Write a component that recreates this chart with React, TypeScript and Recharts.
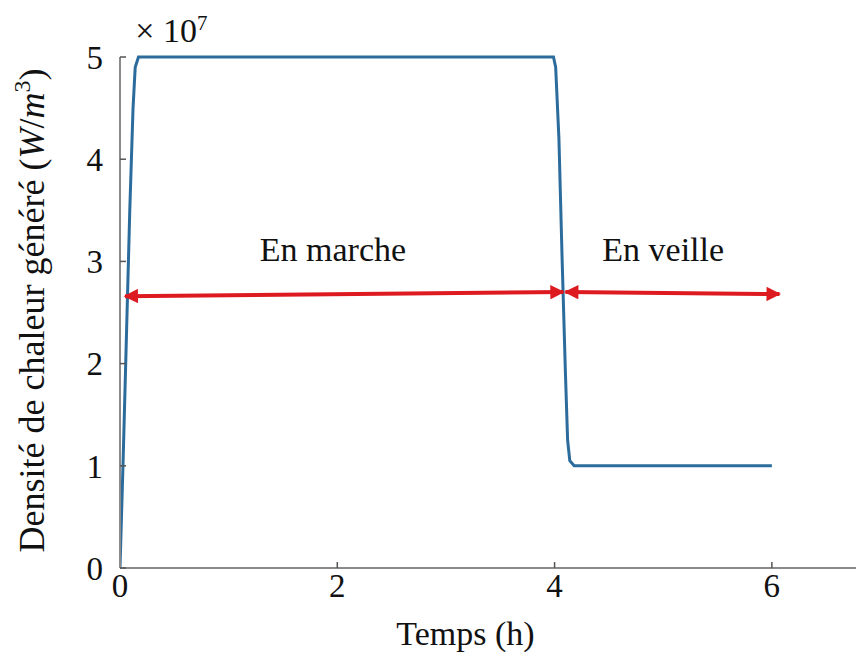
import React from 'react';
import { LineChart, Line, XAxis, YAxis, ReferenceLine, ReferenceDot } from 'recharts';

const times = [0, 0.03, 0.06, 0.09, 0.12, 0.14, 0.17, 3.99, 4.01, 4.04, 4.07, 4.1, 4.12, 4.14, 4.18, 6];
const density = [0, 1.1, 2.3, 3.5, 4.5, 4.9, 5, 5, 4.9, 4.2, 3.0, 1.9, 1.25, 1.05, 1.0, 1.0];
const xTicks = [0, 2, 4, 6];
const yTicks = [0, 1, 2, 3, 4, 5];
const arrowLevel = 2.68;
const arrowMarche = [0.046, 4.08];
const arrowVeille = [4.1, 6.07];
const labels = [
  { text: 'En marche', x: 1.96, y: 3.0 },
  { text: 'En veille', x: 5.0, y: 3.0 },
];

const data = times.map((t, i) => ({ t, v: density[i] }));

const FONT = '"Liberation Serif", "DejaVu Serif", serif';
const RED = '#dd1a20';
const BLUE = '#2c6c9c';
const GREY = '#8a8a8a';

const arrowShape = (p: any) => (
  <line
    x1={p.x1}
    y1={p.y1}
    x2={p.x2}
    y2={p.y2}
    stroke={RED}
    strokeWidth={4}
    markerStart="url(#arrowHead)"
    markerEnd="url(#arrowHead)"
  />
);

const textShape = (text: string) => (p: any) => (
  <text x={p.cx} y={p.cy} textAnchor="middle" fontFamily={FONT} fontSize={34} fill="#111">
    {text}
  </text>
);

const exponentShape = (p: any) => (
  <text x={p.cx} y={p.cy} textAnchor="start" fontFamily={FONT} fontSize={34} fill="#111">
    × 10<tspan dy={-12} fontSize={21}>7</tspan>
  </text>
);

const yLabel = (props: any) => {
  const vb = props.viewBox || {};
  const cx = 36;
  const cy = vb.y + vb.height / 2 - 2;
  return (
    <text
      x={cx}
      y={cy}
      transform={`rotate(-90, ${cx}, ${cy})`}
      textAnchor="middle"
      fontFamily={FONT}
      fontSize={36}
      fill="#111"
    >
      Densité de chaleur généré (<tspan fontStyle="italic">W</tspan>
      <tspan>/</tspan>
      <tspan fontStyle="italic">m</tspan>
      <tspan dy={-14} fontSize={24}>3</tspan>
      <tspan dy={14}>)</tspan>
    </text>
  );
};

const xLabel = (props: any) => {
  const vb = props.viewBox || {};
  const x = vb.x + vb.width * (3.18 / 6.848);
  const y = vb.y + vb.height - 8;
  return (
    <text x={x} y={y} textAnchor="middle" fontFamily={FONT} fontSize={34} fill="#111">
      Temps (h)
    </text>
  );
};

export default function App() {
  return (
    <div style={{ position: 'relative' }}>
      <svg width={0} height={0} style={{ position: 'absolute' }}>
        <defs>
          <marker
            id="arrowHead"
            viewBox="0 0 10 10"
            refX="9"
            refY="5"
            markerWidth="4.2"
            markerHeight="3.6"
            orient="auto-start-reverse"
          >
            <path d="M0,0 L10,5 L0,10 z" fill={RED} />
          </marker>
        </defs>
      </svg>
      <LineChart width={856} height={645} data={data} margin={{ top: 49, right: 0, left: 0, bottom: 0 }}>
        <XAxis
          dataKey="t"
          type="number"
          domain={[0, 6.848]}
          ticks={xTicks}
          allowDataOverflow
          height={85}
          axisLine={{ stroke: GREY, strokeWidth: 2 }}
          tickLine={{ stroke: '#555', strokeWidth: 1.5 }}
          tickSize={-6}
          tickMargin={12}
          tick={{ fontFamily: FONT, fontSize: 33, fill: '#111' }}
          label={{ content: xLabel }}
        />
        <XAxis
          xAxisId="top"
          orientation="top"
          dataKey="t"
          type="number"
          domain={[0, 6.848]}
          ticks={xTicks}
          allowDataOverflow
          height={0}
          axisLine={{ stroke: GREY, strokeWidth: 2 }}
          tick={false}
          tickLine={false}
        />
        <YAxis
          type="number"
          domain={[0, 5]}
          ticks={yTicks}
          width={112}
          axisLine={{ stroke: GREY, strokeWidth: 2 }}
          tickLine={{ stroke: '#555', strokeWidth: 1.5 }}
          tickSize={-6}
          tickMargin={23}
          tick={{ fontFamily: FONT, fontSize: 33, fill: '#111' }}
          label={{ content: yLabel }}
        />
        <Line
          type="linear"
          dataKey="v"
          stroke={BLUE}
          strokeWidth={3}
          dot={false}
          isAnimationActive={false}
        />
        <ReferenceLine
          segment={[
            { x: arrowMarche[0], y: arrowLevel - 0.02 },
            { x: arrowMarche[1], y: arrowLevel + 0.02 },
          ]}
          shape={arrowShape}
          ifOverflow="visible"
        />
        <ReferenceLine
          segment={[
            { x: arrowVeille[0], y: arrowLevel + 0.02 },
            { x: arrowVeille[1], y: arrowLevel },
          ]}
          shape={arrowShape}
          ifOverflow="visible"
        />
        {labels.map((l) => (
          <ReferenceDot key={l.text} x={l.x} y={l.y} r={0} shape={textShape(l.text)} ifOverflow="visible" />
        ))}
        <ReferenceDot x={0.14} y={5.15} r={0} shape={exponentShape} ifOverflow="visible" />
      </LineChart>
    </div>
  );
}
